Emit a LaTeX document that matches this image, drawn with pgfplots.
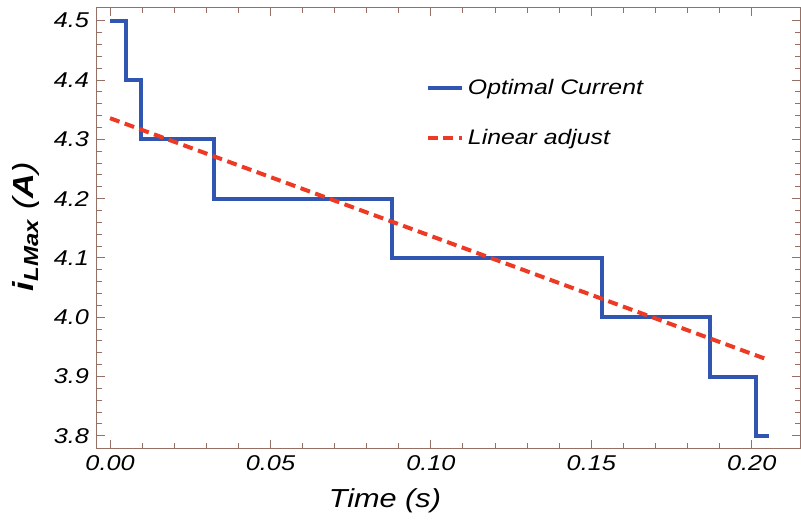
\documentclass[border=0pt]{standalone}
\usepackage{fontspec}
\setmainfont{Liberation Sans}[FakeStretch=1.18]
\usepackage{pgfplots}
\pgfplotsset{compat=1.18}
\definecolor{optblue}{RGB}{48,86,178}
\definecolor{linred}{RGB}{238,58,36}
\definecolor{axcol}{RGB}{150,112,100}
\begin{document}
\begin{tikzpicture}
\begin{axis}[
  scale only axis, width=352pt, height=220.5pt,
  xmin=-0.00436, xmax=0.2152, ymin=3.7785, ymax=4.5226,
  xtick={0,0.05,0.10,0.15,0.20},
  ytick={3.8,3.9,4.0,4.1,4.2,4.3,4.4,4.5},
  minor x tick num=4, minor y tick num=4,
  tick align=inside, major tick length=4.5pt, minor tick length=3pt,
  axis line style={axcol, line width=0.5pt},
  tick style={axcol, line width=0.5pt},
  xticklabel style={/pgf/number format/.cd, fixed, fixed zerofill, precision=2},
  yticklabel style={/pgf/number format/.cd, fixed, fixed zerofill, precision=1},
  /pgf/number format/assume math mode=true,
  tick label style={font=\fontsize{10.7}{12}\selectfont\itshape, black},
  xlabel={Time (s)},
  xlabel style={font=\fontsize{13}{15}\selectfont\itshape, at={(axis description cs:0.41,-0.134)}, anchor=base},
  ylabel={{\bfseries\itshape i\textsubscript{LMax}} {\itshape(}{\bfseries\itshape A}{\itshape)}},
  ylabel style={font=\fontsize{14.5}{16}\selectfont, at={(axis description cs:-0.099,0.503)}, anchor=center, rotate=0},
  legend style={draw=none, fill=none, at={(rel axis cs:0.459,0.857)}, anchor=north west,
    font=\fontsize{10.5}{12}\selectfont\itshape, row sep=12pt},
  legend cell align=left,
]
\addplot[optblue, line width=2pt, const plot] coordinates {
  (0,4.5) (0.0050,4.4) (0.0097,4.3) (0.0324,4.2) (0.0879,4.1)
  (0.1534,4.0) (0.1870,3.9) (0.2014,3.8) (0.2054,3.8)};
\addlegendentry{Optimal Current}
\addplot[linred, line width=2pt, dash pattern=on 5pt off 2.8pt] coordinates {
  (0,4.3356) (0.2042,3.930)};
\addlegendentry{Linear adjust}
\coordinate (bl) at (rel axis cs:0,0);
\coordinate (tr) at (rel axis cs:1,1);
\end{axis}
\pgfresetboundingbox
\path[use as bounding box] ([shift={(-48pt,-36.65pt)}]bl) rectangle ([shift={(0.25pt,3.65pt)}]tr);
\end{tikzpicture}
\end{document}
